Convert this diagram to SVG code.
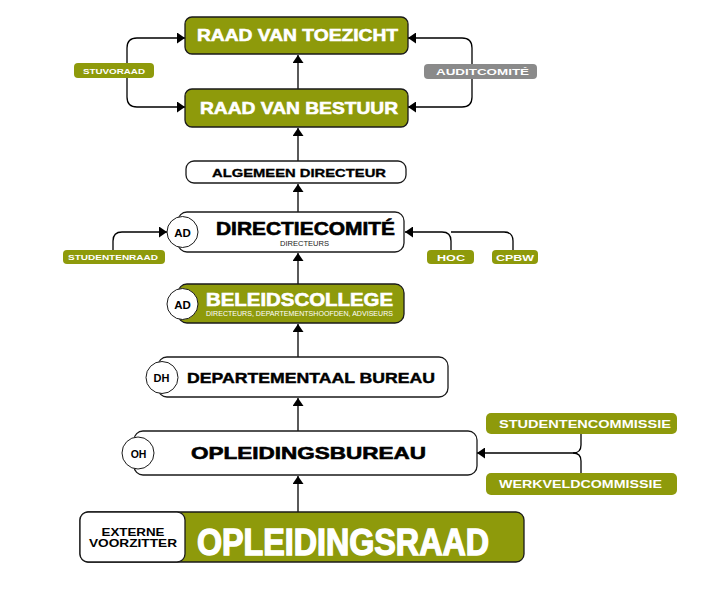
<svg xmlns="http://www.w3.org/2000/svg" width="717" height="603" viewBox="0 0 717 603">
<defs>
<marker id="ah" markerUnits="userSpaceOnUse" markerWidth="9" markerHeight="11" refX="8" refY="5.5" orient="auto" viewBox="0 0 9 11">
<path d="M0,0 L8,5.5 L0,11 z" fill="#000"/>
</marker>
<style>
.g{fill:#8e9a0b;stroke:#1a1a1a;stroke-width:1.3}
.w{fill:#fff;stroke:#1a1a1a;stroke-width:1.3}
.pill{fill:#8e9a0b}
.grey{fill:#8a8a8a}
.c{fill:#fff;stroke:#1a1a1a;stroke-width:1}
text{font-family:"Liberation Sans",Arial,Helvetica,sans-serif;font-weight:bold}
.wt{fill:#fff}
.bt{fill:#000}
.hw{stroke:#fff;stroke-width:0.6}
.hb{stroke:#000;stroke-width:0.6}
.hx{stroke:#fff;stroke-width:1.4}
.ln{fill:none;stroke:#000;stroke-width:1.3}
</style>
</defs>
<rect width="717" height="603" fill="#fff"/>

<g id="connectors">
<path class="ln" d="M298,89 L298,55" marker-end="url(#ah)"/>
<path class="ln" d="M298,161 L298,128" marker-end="url(#ah)"/>
<path class="ln" d="M298,212 L298,184" marker-end="url(#ah)"/>
<path class="ln" d="M298,284 L298,253" marker-end="url(#ah)"/>
<path class="ln" d="M298,357 L298,324" marker-end="url(#ah)"/>
<path class="ln" d="M298,431 L298,398" marker-end="url(#ah)"/>
<path class="ln" d="M298,512 L298,476" marker-end="url(#ah)"/>
<path class="ln" d="M127,63 L127,48 Q127,38 137,38 L185,38" marker-end="url(#ah)"/>
<path class="ln" d="M127,78 L127,97 Q127,107 137,107 L185,107" marker-end="url(#ah)"/>
<path class="ln" d="M472,64 L472,48 Q472,38 462,38 L408,38" marker-end="url(#ah)"/>
<path class="ln" d="M472,79 L472,97 Q472,107 462,107 L408,107" marker-end="url(#ah)"/>
<path class="ln" d="M113,250 L113,241 Q113,232 122,232 L167,232" marker-end="url(#ah)"/>
<path class="ln" d="M451,250 L451,241 Q451,232 442,232 L405,232" marker-end="url(#ah)"/>
<path class="ln" d="M513,250 L513,241 Q513,232 504,232 L451,232"/>
<path class="ln" d="M581,434 L581,445 Q581,453 573,453 L477,453" marker-end="url(#ah)"/>
<path class="ln" d="M581,473 L581,461 Q581,453 573,453"/>
</g>

<g id="raad-van-toezicht">
<rect class="g" x="185" y="17" width="223" height="37" rx="7"/>
<text class="wt hw" x="197" y="41" font-size="17" textLength="201" lengthAdjust="spacingAndGlyphs">RAAD VAN TOEZICHT</text>
</g>
<g id="raad-van-bestuur">
<rect class="g" x="185" y="89" width="223" height="38" rx="7"/>
<text class="wt hw" x="200" y="114" font-size="17" textLength="198" lengthAdjust="spacingAndGlyphs">RAAD VAN BESTUUR</text>
</g>
<g id="stuvoraad">
<rect class="pill" x="74" y="63" width="80" height="15" rx="4"/>
<text class="wt" x="83" y="73.5" font-size="8" textLength="62" lengthAdjust="spacingAndGlyphs">STUVORAAD</text>
</g>
<g id="auditcomite">
<rect class="grey" x="424" y="64" width="113" height="15" rx="4"/>
<text class="wt" x="436" y="75" font-size="9.5" textLength="93" lengthAdjust="spacingAndGlyphs">AUDITCOMITÉ</text>
</g>
<g id="algemeen-directeur">
<rect class="w" x="186" y="161" width="220" height="22" rx="8"/>
<text class="bt" x="212" y="177" font-size="11" textLength="174" lengthAdjust="spacingAndGlyphs" style="stroke:#000;stroke-width:0.3">ALGEMEEN DIRECTEUR</text>
</g>
<g id="directiecomite">
<rect class="w" x="178" y="212" width="226" height="40" rx="9"/>
<circle class="c" cx="182.5" cy="232" r="15.5"/>
<text class="bt" x="182.5" y="237" font-size="11.5" text-anchor="middle">AD</text>
<text class="bt hb" x="216" y="235" font-size="18" textLength="179" lengthAdjust="spacingAndGlyphs">DIRECTIECOMITÉ</text>
<text x="280" y="245.5" font-size="6.5" fill="#222" textLength="49" lengthAdjust="spacingAndGlyphs" style="font-weight:normal">DIRECTEURS</text>
</g>
<g id="studentenraad">
<rect class="pill" x="63" y="250" width="102" height="14" rx="4"/>
<text class="wt" x="68" y="260" font-size="8" textLength="90" lengthAdjust="spacingAndGlyphs">STUDENTENRAAD</text>
</g>
<g id="hoc">
<rect class="pill" x="427" y="250" width="47" height="14" rx="4"/>
<text class="wt" x="437" y="261" font-size="9.5" textLength="28" lengthAdjust="spacingAndGlyphs">HOC</text>
</g>
<g id="cpbw">
<rect class="pill" x="492" y="250" width="46" height="14" rx="4"/>
<text class="wt" x="496" y="261" font-size="9.5" textLength="38" lengthAdjust="spacingAndGlyphs">CPBW</text>
</g>
<g id="beleidscollege">
<rect class="g" x="178" y="284" width="226" height="39" rx="9"/>
<circle class="c" cx="182.5" cy="304" r="15.5"/>
<text class="bt" x="182.5" y="309" font-size="11.5" text-anchor="middle">AD</text>
<text class="wt hw" x="206" y="305.5" font-size="18" textLength="187" lengthAdjust="spacingAndGlyphs">BELEIDSCOLLEGE</text>
<text class="wt" x="206" y="315.5" font-size="6.5" textLength="187" lengthAdjust="spacingAndGlyphs" style="font-weight:normal">DIRECTEURS, DEPARTEMENTSHOOFDEN, ADVISEURS</text>
</g>
<g id="departementaal-bureau">
<rect class="w" x="158" y="357" width="290" height="40" rx="9"/>
<circle class="c" cx="162" cy="377.5" r="16"/>
<text class="bt" x="161.5" y="382" font-size="11" text-anchor="middle">DH</text>
<text class="bt" x="187" y="383" font-size="14" textLength="248" lengthAdjust="spacingAndGlyphs" style="stroke:#000;stroke-width:0.4">DEPARTEMENTAAL BUREAU</text>
</g>
<g id="opleidingsbureau">
<rect class="w" x="134" y="431" width="343" height="44" rx="9"/>
<circle class="c" cx="138" cy="453" r="16"/>
<text class="bt" x="138.5" y="457.5" font-size="10.5" text-anchor="middle">OH</text>
<text class="bt hb" x="191" y="459" font-size="17" textLength="235" lengthAdjust="spacingAndGlyphs">OPLEIDINGSBUREAU</text>
</g>
<g id="studentencommissie">
<rect class="pill" x="486" y="413" width="191" height="21" rx="5"/>
<text class="wt" x="499" y="427.5" font-size="10.5" textLength="172" lengthAdjust="spacingAndGlyphs">STUDENTENCOMMISSIE</text>
</g>
<g id="werkveldcommissie">
<rect class="pill" x="486" y="473" width="191" height="22" rx="5"/>
<text class="wt" x="499" y="487.5" font-size="10.5" textLength="163" lengthAdjust="spacingAndGlyphs">WERKVELDCOMMISSIE</text>
</g>
<g id="opleidingsraad">
<rect class="g" x="80" y="512" width="444" height="50" rx="8"/>
<rect class="w" x="80" y="512" width="105" height="50" rx="8"/>
<text class="bt" x="133" y="536" font-size="10.5" text-anchor="middle" textLength="63" lengthAdjust="spacingAndGlyphs">EXTERNE</text>
<text class="bt" x="133" y="547" font-size="10.5" text-anchor="middle" textLength="88" lengthAdjust="spacingAndGlyphs">VOORZITTER</text>
<text class="wt hx" x="197" y="555" font-size="36" textLength="292" lengthAdjust="spacingAndGlyphs">OPLEIDINGSRAAD</text>
</g>
</svg>
